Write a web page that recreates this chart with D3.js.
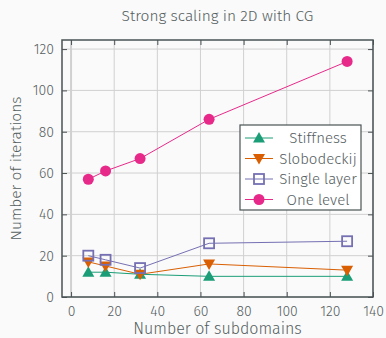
<!DOCTYPE html>
<html>
<head>
<meta charset="utf-8">
<script src="https://cdn.jsdelivr.net/npm/d3@7"></script>
<style>
  body { margin: 0; background: #fafafa; }
  text { font-family: "Fira Sans", "Noto Sans", sans-serif; font-weight: 300; fill: #555e5f; }
</style>
</head>
<body>
<script>
// data
let subdomains = [8, 16, 32, 64, 128];
let stiffness = [12, 12, 11, 10, 10];
let slobodeckij = [17, 15, 11, 16, 13];
let singleLayer = [20, 18, 14, 26, 27];
let oneLevel = [57, 61, 67, 86, 114];
let xTicks = d3.range(0, 141, 20);
let yTicks = d3.range(0, 121, 20);

let series = [
    { name: "Stiffness", values: stiffness, color: "#1b9e77", marker: "up" },
    { name: "Slobodeckij", values: slobodeckij, color: "#d95f02", marker: "down" },
    { name: "Single layer", values: singleLayer, color: "#7570b3", marker: "square" },
    { name: "One level", values: oneLevel, color: "#e7298a", marker: "circle" }
]

let width = 386, height = 338;
let plot = { left: 62, right: 373, top: 40, bottom: 297 };

let x = d3.scaleLinear().domain([-4.2, 140]).range([plot.left, plot.right]);
let y = d3.scaleLinear().domain([0, 124.4]).range([plot.bottom, plot.top]);

let svg = d3.select("body").append("svg")
    .attr("width", width)
    .attr("height", height)

// grid
svg.append("g").selectAll("line").data(xTicks).enter().append("line")
    .attr("x1", d => x(d)).attr("x2", d => x(d))
    .attr("y1", plot.top).attr("y2", plot.bottom)
    .attr("stroke", "#d0d0d0").attr("stroke-width", d => d == 0 ? 2 : 1)
svg.append("g").selectAll("line").data(yTicks).enter().append("line")
    .attr("x1", plot.left).attr("x2", plot.right)
    .attr("y1", d => y(d)).attr("y2", d => y(d))
    .attr("stroke", "#d0d0d0")

// axes with inward ticks on all sides
function styleAxis(g) {
    g.select(".domain").remove();
    g.selectAll(".tick line").attr("stroke", "#4a5354");
    g.selectAll(".tick text").style("font-size", "14px").attr("fill", "#555e5f");
}
svg.append("g").attr("transform", "translate(0," + plot.bottom + ")")
    .call(d3.axisBottom(x).tickValues(xTicks).tickSizeInner(-5).tickPadding(9))
    .call(styleAxis)
svg.append("g").attr("transform", "translate(0," + plot.top + ")")
    .call(d3.axisTop(x).tickValues(xTicks).tickSizeInner(-5).tickFormat(""))
    .call(styleAxis)
svg.append("g").attr("transform", "translate(" + plot.left + ",0)")
    .call(d3.axisLeft(y).tickValues(yTicks).tickSizeInner(-5).tickPadding(8))
    .call(styleAxis)
svg.append("g").attr("transform", "translate(" + plot.right + ",0)")
    .call(d3.axisRight(y).tickValues(yTicks).tickSizeInner(-5).tickFormat(""))
    .call(styleAxis)

svg.append("rect")
    .attr("x", plot.left).attr("y", plot.top)
    .attr("width", plot.right - plot.left).attr("height", plot.bottom - plot.top)
    .attr("fill", "none").attr("stroke", "#4a5354").attr("stroke-width", 1.5)

function marker(g, type, color) {
    if (type == "up") {
        g.append("path").attr("d", "M0,-6L6,4.5L-6,4.5Z").attr("fill", color)
    } else if (type == "down") {
        g.append("path").attr("d", "M0,6L6,-4.5L-6,-4.5Z").attr("fill", color)
    } else if (type == "square") {
        g.append("rect").attr("x", -5).attr("y", -5).attr("width", 10).attr("height", 10)
            .attr("fill", "none").attr("stroke", color).attr("stroke-width", 1.8)
    } else {
        g.append("circle").attr("r", 5.5).attr("fill", color)
    }
}

let line = d3.line().x(d => x(d[0])).y(d => y(d[1]));

series.forEach(function (s) {
    let pts = subdomains.map((d, i) => [d, s.values[i]]);
    svg.append("path").datum(pts)
        .attr("d", line)
        .attr("fill", "none")
        .attr("stroke", s.color)
        .attr("stroke-width", 1)
    pts.forEach(function (p) {
        let g = svg.append("g").attr("transform", "translate(" + x(p[0]) + "," + y(p[1]) + ")");
        marker(g, s.marker, s.color);
    })
})

// legend
let legend = svg.append("g").attr("transform", "translate(240,125)")
legend.append("rect").attr("width", 121).attr("height", 85)
    .attr("fill", "#ffffff").attr("stroke", "#4a5354").attr("stroke-width", 1.2)
series.forEach(function (s, i) {
    let yy = 13 + i * 20.5;
    legend.append("line").attr("x1", 5).attr("x2", 33).attr("y1", yy).attr("y2", yy)
        .attr("stroke", s.color).attr("stroke-width", 1)
    let g = legend.append("g").attr("transform", "translate(19," + yy + ")");
    marker(g, s.marker, s.color);
    legend.append("text").attr("x", 78).attr("y", yy).attr("dy", "0.35em")
        .attr("text-anchor", "middle").style("font-size", "15px").text(s.name)
})

// titles
svg.append("text").attr("x", (plot.left + plot.right) / 2).attr("y", 21)
    .attr("text-anchor", "middle").style("font-size", "15.5px").text("Strong scaling in 2D with CG")
svg.append("text").attr("x", (plot.left + plot.right) / 2).attr("y", 334)
    .attr("text-anchor", "middle").style("font-size", "16px").text("Number of subdomains")
svg.append("text")
    .attr("transform", "translate(21," + (plot.top + plot.bottom) / 2 + ") rotate(-90)")
    .attr("text-anchor", "middle").style("font-size", "15.5px").text("Number of iterations")
</script>
</body>
</html>
